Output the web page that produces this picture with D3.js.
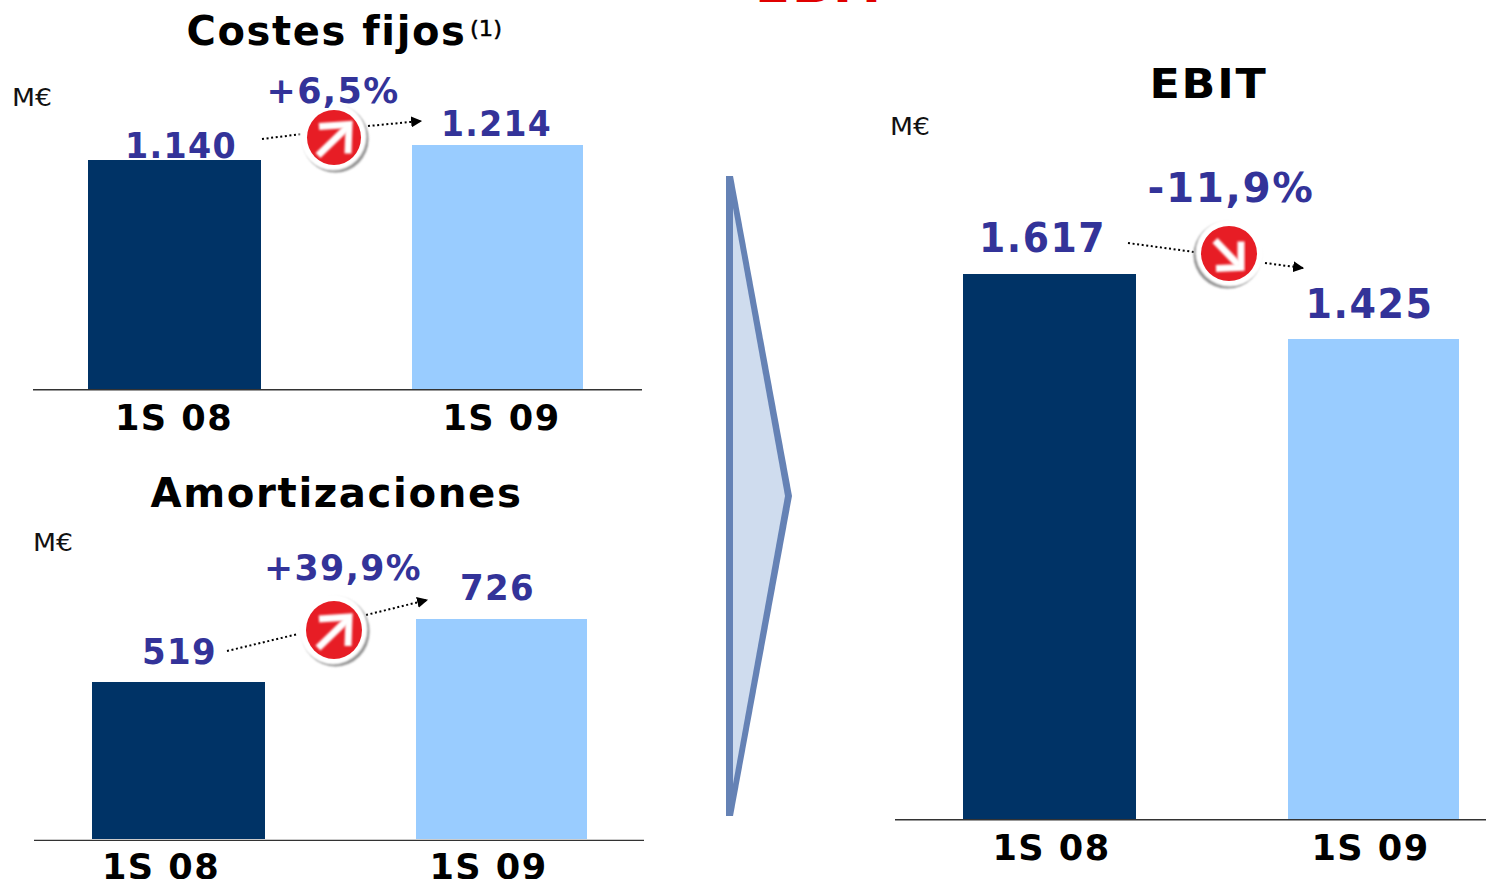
<!DOCTYPE html>
<html>
<head>
<meta charset="utf-8">
<script src="https://cdn.jsdelivr.net/npm/d3@7/dist/d3.min.js"></script>
<style>
html,body{margin:0;padding:0;background:#fff;overflow:hidden}
text{font-family:"DejaVu Sans",sans-serif}
</style>
</head>
<body>
<svg id="chart" width="1486" height="879"></svg>
<script>
// Periods compared in all three panels
const periods = ["1S 08", "1S 09"];

// Values in millions of euros
const costesFijos = [1140, 1214];
const amortizaciones = [519, 726];
const ebit = [1617, 1425];

// Printed value labels, Spanish number format
const costesLabels = ["1.140", "1.214"];
const amortLabels = ["519", "726"];
const ebitLabels = ["1.617", "1.425"];

const changeLabels = ["+6,5%", "+39,9%", "-11,9%"];
const titles = ["Costes fijos", "Amortizaciones", "EBIT"];
const unit = "M€";

const DARK = "#003366", LIGHT = "#99ccff", INK = "#333399";

const svg = d3.select("#chart");
const defs = svg.append("defs");
defs.append("marker").attr("id", "head").attr("viewBox", "0 0 10 10")
  .attr("refX", 9).attr("refY", 5).attr("markerWidth", 11).attr("markerHeight", 11)
  .attr("markerUnits", "userSpaceOnUse").attr("orient", "auto")
  .append("path").attr("d", "M0,0L10,5L0,10Z").attr("fill", "#000");
defs.append("filter").attr("id", "soft").attr("x", "-20%").attr("y", "-20%")
  .attr("width", "140%").attr("height", "140%")
  .append("feGaussianBlur").attr("stdDeviation", 0.8);

// Text fitted to a given width, with a little tracking between the glyphs
function fitted(g, str, x, baseline, size, width, anchor, weight, fill) {
  return g.append("text").text(str)
    .attr("x", x).attr("y", baseline)
    .attr("font-size", size).attr("font-weight", weight)
    .attr("letter-spacing", weight === "bold" ? size * 0.04 : 0)
    .attr("text-anchor", anchor).attr("fill", fill)
    .attr("textLength", width).attr("lengthAdjust", "spacingAndGlyphs");
}

// Round red badge with a white arrow and a thin shaded rim
function badge(cx, cy, rx, ry, up) {
  const g = svg.append("g").attr("transform", `translate(${cx},${cy})`);
  g.append("ellipse").attr("cx", up ? 1.5 : -1.5).attr("cy", 1.5).attr("rx", rx + 6).attr("ry", ry + 6)
    .attr("fill", "#8f8f8f").attr("filter", "url(#soft)");
  g.append("ellipse").attr("cx", up ? -1 : 1).attr("cy", -1).attr("rx", rx + 6.5).attr("ry", ry + 6.5)
    .attr("fill", "#fff").attr("filter", "url(#soft)");
  g.append("ellipse").attr("rx", rx).attr("ry", ry).attr("fill", "#e71d25");
  const shaft = up ? [[-16, 18], [14, -11]] : [[-14, -13], [10, 12]];
  const arms = up
    ? [[-15, -11], [15, -13], [14, 16]]
    : [[12, -12], [12, 14], [-13, 15]];
  const line = d3.line();
  [shaft, arms].forEach(pts => {
    g.append("path").attr("d", line(pts))
      .attr("stroke", "#fff").attr("stroke-width", 7).attr("fill", "none")
      .attr("stroke-linejoin", "miter").attr("filter", "url(#soft)");
  });
}

function dotted(x1, y1, x2, y2, arrow) {
  const l = svg.append("line").attr("x1", x1).attr("y1", y1).attr("x2", x2).attr("y2", y2)
    .attr("stroke", "#000").attr("stroke-width", 2).attr("stroke-dasharray", "2 2.6");
  if (arrow) l.attr("marker-end", "url(#head)");
}

// One bar panel. Geometry comes from the layout object, heights from the y scale.
function panel(values, labels, cfg) {
  const g = svg.append("g");
  const y = d3.scaleLinear().domain([0, values[0]]).range([cfg.base, cfg.topFirst]);
  const x = d3.scaleOrdinal().domain(periods).range(cfg.barX);
  const w = d3.scaleOrdinal().domain(periods).range(cfg.barW);

  g.selectAll("rect").data(values).join("rect")
    .attr("x", (d, i) => x(periods[i]))
    .attr("width", (d, i) => w(periods[i]))
    .attr("y", d => Math.round(y(d)))
    .attr("height", d => cfg.base - Math.round(y(d)))
    .attr("fill", (d, i) => i ? LIGHT : DARK);

  g.append("line").attr("x1", cfg.axis[0]).attr("x2", cfg.axis[1])
    .attr("y1", cfg.axisY).attr("y2", cfg.axisY)
    .attr("stroke", "#333").attr("stroke-width", 1.4);

  periods.forEach((p, i) => {
    fitted(g, p, cfg.tickX[i], cfg.tickY, 35, 118, "middle", "bold", "#000");
    fitted(g, labels[i], cfg.valX[i], cfg.valY[i], cfg.valSize, cfg.valW[i], "middle", "bold", INK);
  });
}

panel(costesFijos, costesLabels, {
  base: 389, axisY: 389.7, topFirst: 159.6, barX: [88, 412], barW: [173, 171], axis: [33, 642],
  tickX: [174, 501.5], tickY: 430, valSize: 36, valX: [181, 496.5], valY: [158, 136], valW: [112, 111]
});
panel(amortizaciones, amortLabels, {
  base: 839, axisY: 840.4, topFirst: 682, barX: [92, 416], barW: [173, 171], axis: [34, 644],
  tickX: [161, 488.5], tickY: 879, valSize: 36, valX: [179.5, 497.5], valY: [664, 600], valW: [75, 75]
});
panel(ebit, ebitLabels, {
  base: 819, axisY: 819.7, topFirst: 274, barX: [963, 1288], barW: [173, 171], axis: [895, 1486],
  tickX: [1051.5, 1370.5], tickY: 860, valSize: 40, valX: [1042.5, 1369.5], valY: [252, 318], valW: [127, 128]
});

// Trend connectors and badges
dotted(262, 139, 302, 134, false);
dotted(368, 126, 421, 121, true);
badge(334, 137.5, 27, 27.5, true);

dotted(227, 651, 298, 634, false);
dotted(366, 615, 427, 600, true);
badge(334, 630, 28, 29, true);

dotted(1128, 243, 1194, 252, false);
dotted(1265, 263, 1303, 268, true);
badge(1229, 253.5, 28, 27.5, false);

// Panel titles
const head = svg.append("g");
fitted(head, titles[0], 326.5, 45, 41, 280, "middle", "bold", "#000");
fitted(head, "(1)", 486, 36, 22, 32, "middle", "normal", "#000").attr("stroke", "#000").attr("stroke-width", .5);
fitted(head, titles[1], 336.5, 507, 41, 372, "middle", "bold", "#000");
fitted(head, titles[2], 1208.5, 98, 41, 118, "middle", "bold", "#000");

// Slide heading, cut off by the top edge
fitted(head, titles[2], 823, 2, 41, 136, "middle", "bold", "#e00000");

// Unit captions
[[12, 106], [33, 551], [890, 135]].forEach(p => {
  head.append("text").text(unit).attr("x", p[0]).attr("y", p[1])
    .attr("font-size", 25).attr("textLength", 40).attr("lengthAdjust", "spacingAndGlyphs").attr("fill", "#111");
});

// Percentage changes sit above the badges
fitted(head, changeLabels[0], 333, 103, 36, 133, "middle", "bold", INK);
fitted(head, changeLabels[1], 343, 580, 36, 158, "middle", "bold", INK);
fitted(head, changeLabels[2], 1231, 202, 40, 167, "middle", "bold", INK);

// Large chevron linking the cost panels to EBIT
const line = d3.line();
svg.append("path").attr("d", line([[726, 176], [733, 176], [792, 496], [733, 816], [726, 816]]) + "Z")
  .attr("fill", "#6582b5");
svg.append("path").attr("d", line([[733, 208], [785, 496], [733, 784]]) + "Z")
  .attr("fill", "#cfdcee");
</script>
</body>
</html>
